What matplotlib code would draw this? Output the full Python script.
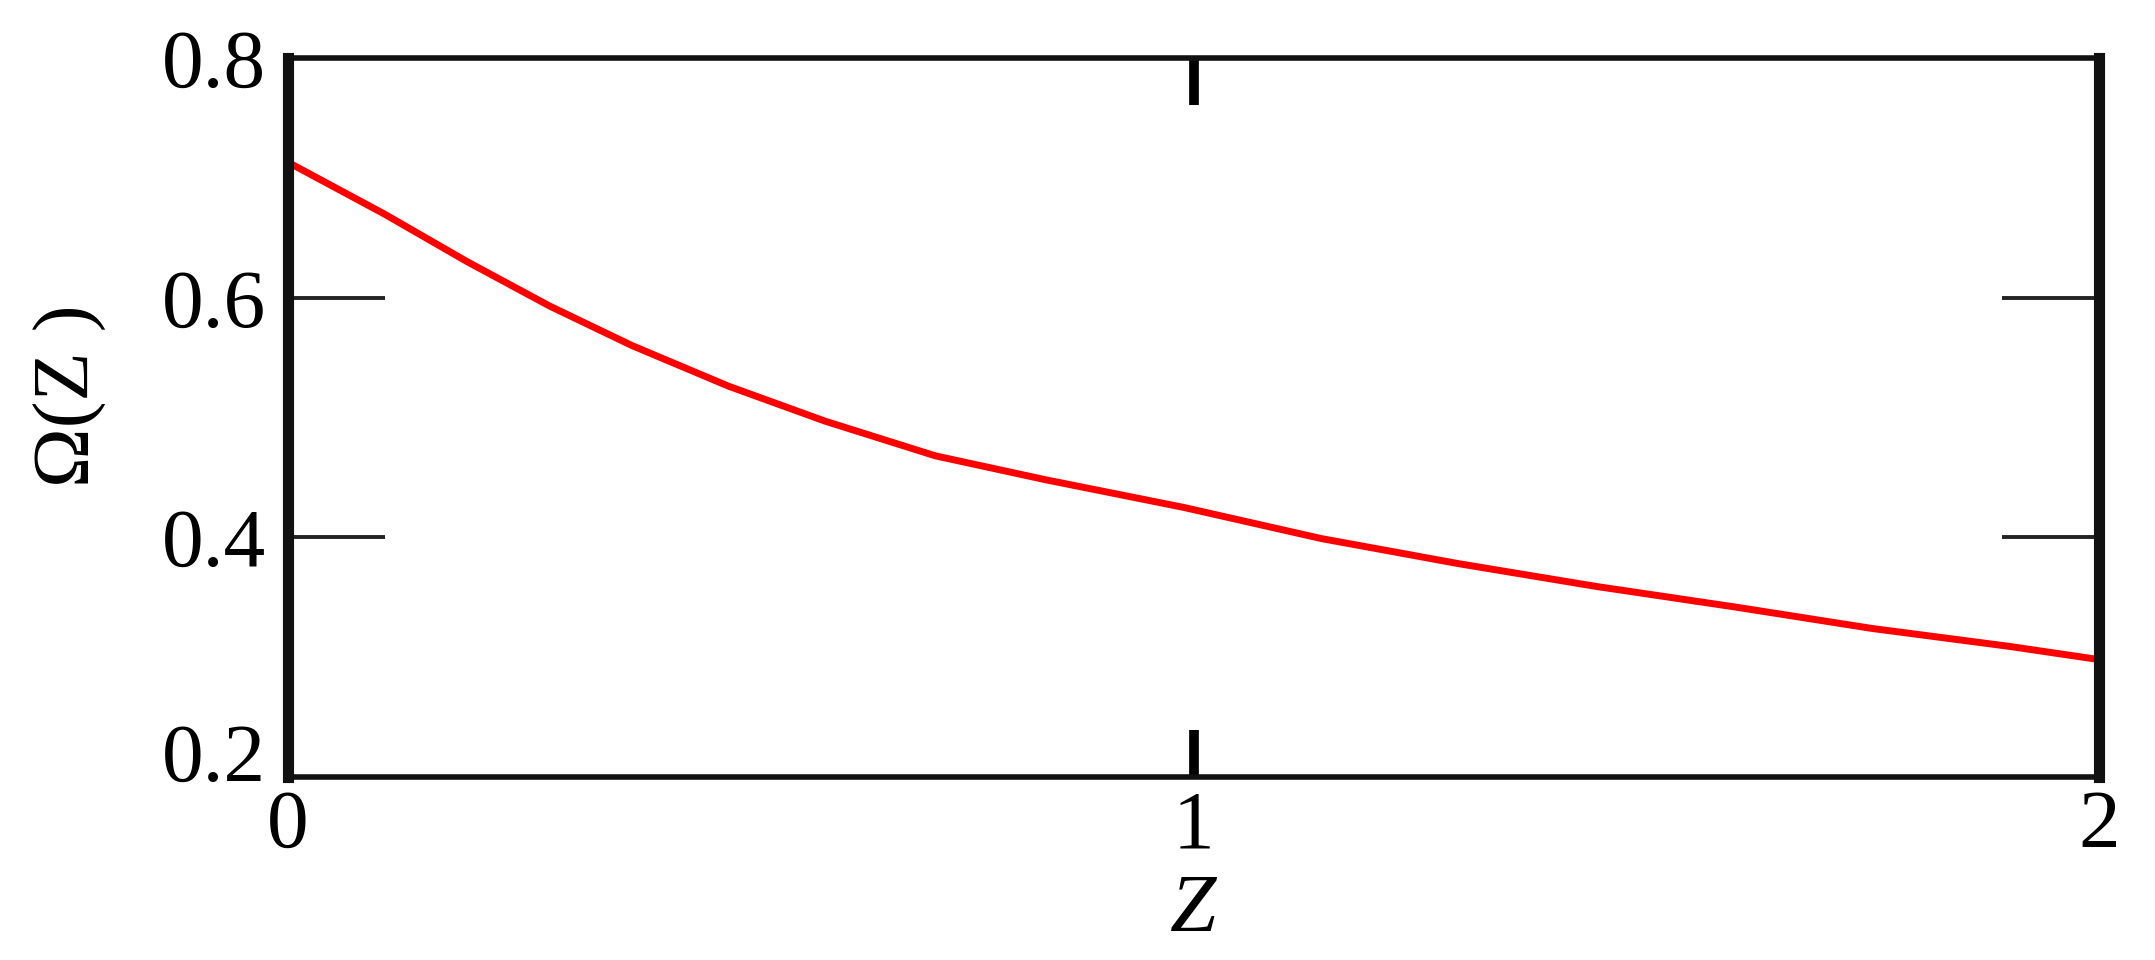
import matplotlib
matplotlib.use("Agg")
import matplotlib.pyplot as plt
import matplotlib.transforms as mtransforms

# values
z = [0.0, 0.106, 0.198, 0.289, 0.380, 0.487, 0.593, 0.715, 0.837, 0.989,
     1.141, 1.293, 1.445, 1.597, 1.749, 1.901, 2.0]
omega = [0.713, 0.670, 0.630, 0.593, 0.560, 0.526, 0.497, 0.468, 0.448, 0.425,
         0.399, 0.378, 0.359, 0.342, 0.324, 0.309, 0.298]

xticks = [0, 1, 2]
yticks = [0.2, 0.4, 0.6, 0.8]

plt.rcParams['font.family'] = ['Liberation Serif', 'DejaVu Serif']

fig = plt.figure(figsize=(21.55, 9.6), dpi=100)
ax = fig.add_axes([288 / 2155, 1 - 777 / 960, (2099 - 288) / 2155, (777 - 58) / 960])

ax.plot(z, omega, color='#ff0000', lw=5, solid_capstyle='butt')

ax.set_xlim(0, 2)
ax.set_ylim(0.2, 0.8)
ax.set_xticks(xticks)
ax.set_xticklabels([str(t) for t in xticks])
ax.set_yticks(yticks)
ax.set_yticklabels([f"{t:.1f}" for t in yticks])

ax.tick_params(axis='y', direction='in', length=70, width=2.8, left=True, right=True,
               labelsize=60, pad=16, color='#222222')
ax.tick_params(axis='x', direction='in', length=34, width=7, bottom=True, top=True,
               labelsize=60, pad=9, color='black')

for side, w in [('left', 8), ('right', 8), ('top', 4), ('bottom', 4)]:
    ax.spines[side].set_linewidth(w)
    ax.spines[side].set_color('#111111')

# lowest y label sits above its tick, as in the reference
lab = ax.get_yticklabels()[0]
lab.set_transform(lab.get_transform() + mtransforms.ScaledTranslation(0, 25 / 100, fig.dpi_scale_trans))

ax.set_xlabel('Z', fontsize=60, style='italic', labelpad=6)
ax.set_ylabel('Ω(Z )', fontsize=58)
ax.yaxis.set_label_coords(-0.10, 0.53)

fig.savefig('out.png', dpi=100)
